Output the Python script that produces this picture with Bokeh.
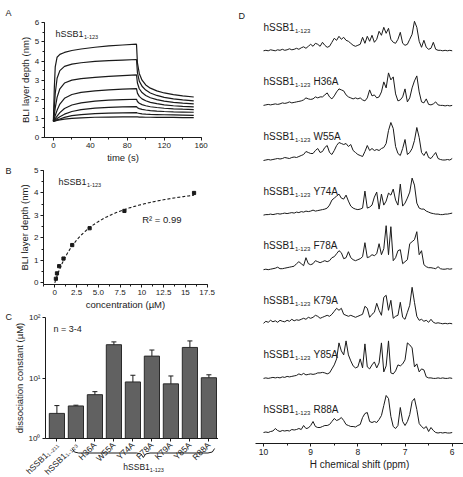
import math
import numpy as np
from bokeh.plotting import figure
from bokeh.layouts import row, column
from bokeh.models import (Range1d, SingleIntervalTicker, FixedTicker, Whisker,
                          TeeHead, ColumnDataSource)
from bokeh.core.properties import value
from bokeh.embed import file_html
from bokeh.resources import INLINE

FONT = "Liberation Sans"
INK = "#1a1a1a"

# ---------------- A: BLI sensorgrams (association 0-90 s, dissociation after) ----------------
bli_time = [0, 1, 2, 4, 7, 12, 20, 30, 45, 60, 75, 90,
            91, 93, 96, 100, 105, 112, 120, 130, 140, 152]
bli_response = [
    [0.85, 2.6, 3.7, 4.2, 4.35, 4.45, 4.55, 4.63, 4.72, 4.79, 4.84, 4.88,
     3.9, 3.35, 3.0, 2.75, 2.58, 2.44, 2.33, 2.24, 2.18, 2.12],
    [0.85, 1.6, 2.3, 3.1, 3.5, 3.72, 3.84, 3.91, 3.98, 4.02, 4.05, 4.08,
     3.4, 2.95, 2.68, 2.48, 2.33, 2.2, 2.1, 2.02, 1.97, 1.92],
    [0.85, 1.2, 1.55, 2.1, 2.55, 2.85, 3.0, 3.08, 3.15, 3.2, 3.24, 3.28,
     2.85, 2.55, 2.35, 2.2, 2.08, 1.98, 1.9, 1.84, 1.8, 1.76],
    [0.85, 1.0, 1.15, 1.42, 1.75, 2.05, 2.25, 2.36, 2.44, 2.49, 2.53, 2.56,
     2.32, 2.15, 2.02, 1.92, 1.84, 1.77, 1.71, 1.66, 1.63, 1.6],
    [0.85, 0.92, 0.99, 1.12, 1.3, 1.52, 1.7, 1.81, 1.9, 1.95, 1.98, 2.0,
     1.88, 1.79, 1.72, 1.66, 1.61, 1.57, 1.53, 1.5, 1.48, 1.46],
    [0.85, 0.88, 0.92, 0.99, 1.09, 1.22, 1.36, 1.46, 1.54, 1.58, 1.6, 1.62,
     1.56, 1.51, 1.47, 1.44, 1.41, 1.38, 1.36, 1.34, 1.33, 1.32],
    [0.85, 0.86, 0.88, 0.92, 0.97, 1.05, 1.14, 1.2, 1.25, 1.27, 1.29, 1.3,
     1.28, 1.26, 1.24, 1.22, 1.21, 1.2, 1.19, 1.18, 1.17, 1.16],
    [0.85, 0.86, 0.87, 0.89, 0.92, 0.96, 1.0, 1.03, 1.06, 1.07, 1.08, 1.08,
     1.08, 1.07, 1.07, 1.06, 1.06, 1.05, 1.05, 1.05, 1.04, 1.04],
]

# ---------------- B: steady-state response vs concentration ----------------
bli_conc = [0.125, 0.25, 0.5, 1, 2, 4, 8, 16]
bli_plateau = [0.18, 0.42, 0.74, 1.08, 1.68, 2.43, 3.2, 4.0]
fit_bmax = 4.85
fit_kd = 3.9
fit_r2 = "0.99"

# ---------------- C: dissociation constants ----------------
kd_construct = ["hSSB1₁₋₂₁₁", "hSSB1₁₋₁₂₃", "H36A", "W55A", "Y74A",
                "F78A", "K79A", "Y85A", "R88A"]
kd_mean = [2.6, 3.45, 5.3, 35.5, 8.6, 23.0, 8.0, 32.0, 10.1]
kd_err = [0.9, 0.1, 0.65, 4.0, 2.5, 6.0, 2.8, 9.0, 1.2]

# ---------------- D: 1D 1H NMR spectra (amide/aromatic region) ----------------
shift_ppm = np.linspace(10.0, 6.0, 81)
nmr_mutation = ["", "H36A", "W55A", "Y74A", "F78A", "K79A", "Y85A", "R88A"]
nmr_spectra = [
    [0.5, 1, 0.5, 1.5, 1, 0.5, 1.5, 1, 2, 1, 1.5, 2.5, 1.5, 2, 3, 2, 3.5,
     4.5, 3, 5, 7, 5, 8, 7, 5, 9, 6,
     4, 5, 9, 13, 11, 15, 12, 14, 11, 10,
     8, 6, 5, 6, 7, 14, 8, 15, 10, 16,
     9, 12, 20, 16, 24, 18, 23, 12, 9, 8,
     12, 19, 8, 6, 7, 12, 17, 30, 24, 10,
     4, 11, 4, 2, 3, 9, 2, 1, 1, 0.5,
     1, 0.5, 1, 0.5],
    [0.5, 1, 1.5, 1, 1.5, 2, 1.5, 2, 3, 2.5, 3, 4, 3, 3.5, 4, 4.5, 5,
     6, 8, 7, 6.5, 7, 9, 8, 9, 9, 11,
     13, 9, 7, 10, 14, 17, 16, 15, 11, 9,
     8, 7, 8, 7, 8, 6, 5, 8, 16, 10,
     11, 8, 9, 14, 24, 18, 33, 26, 29, 12,
     5, 6, 9, 17, 4, 8, 18, 25, 30, 14,
     4, 3, 7, 1.5, 1, 2, 4, 1, 0.5, 0.5,
     0, 0.5, 0, 0.5],
    [0, 0.5, 1, 0.5, 1, 1.5, 2, 1.5, 2, 3, 2.5, 2, 3, 3.5, 3, 4, 5,
     6, 9, 8, 7, 7, 10, 12, 8, 9, 13,
     15, 8, 6, 10, 15, 18, 17, 16, 17, 14,
     16, 10, 8, 6, 5, 4, 9, 15, 10, 12,
     10, 11, 10, 12, 13, 17, 30, 38, 32, 14,
     7, 5, 12, 21, 6, 8, 12, 20, 33, 23,
     8, 5, 9, 3, 2, 5, 8, 2, 1, 0.5,
     0.5, 1, 0.5, 2],
    [0, 0.5, 0.5, 1, 0.5, 1, 1.5, 1, 1.5, 2, 1.5, 2, 2.5, 2, 3, 2.5, 3.5,
     3, 4, 3.5, 4, 5, 4, 4.5, 5, 5.5, 6,
     7, 10, 15, 17, 19, 21, 17, 16, 20, 14,
     9, 7, 6, 5.5, 6, 7, 24, 7, 8, 10,
     18, 23, 6, 21, 10, 14, 22, 20, 26, 15,
     10, 31, 9, 12, 17, 23, 37, 30, 12, 7,
     6, 6, 4, 3, 2, 1.5, 1, 1, 0.5, 0.5,
     1, 1, 1.5, 2],
    [0, 0.5, 0, 0.5, 1, 1.5, 2.5, 1, 1, 1.5, 2, 2.5, 3, 3.5, 6, 8, 6,
     4, 12, 6, 5, 6, 9, 8, 7, 8, 9,
     8, 9, 12, 13, 16, 19, 17, 11, 12, 18,
     12, 10, 9, 10, 11, 13, 27, 12, 13, 15,
     14, 16, 26, 15, 21, 44, 15, 43, 9, 12,
     19, 20, 6, 8, 10, 26, 28, 30, 38, 15,
     19, 5, 3, 2, 2, 1.5, 1, 3, 1, 0.5,
     0.5, 1, 0.5, 1],
    [1, 3, 2, 4, 2.5, 3.5, 2, 4, 3, 2.5, 4, 3, 5, 3.5, 4.5, 4, 5,
     6, 5, 7, 6, 7, 9, 8, 6, 7, 8,
     9, 8, 10, 13, 16, 14, 16, 10, 9, 8,
     9, 8, 7, 8, 9, 10, 18, 16, 7, 10,
     12, 21, 14, 9, 27, 29, 14, 24, 6, 8,
     9, 22, 7, 5, 12, 19, 37, 22, 8, 4,
     5, 3, 4, 2, 5, 2, 1, 1.5, 1, 0.5,
     1, 0.5, 1, 0.5],
    [0.5, 1, 0.5, 1, 1.5, 1, 1.5, 1, 2, 1.5, 2.5, 2, 2.5, 3, 3.5, 5, 4,
     5.5, 4, 4.5, 5, 4.5, 5, 6, 6, 6.5, 6,
     5, 6, 10, 14, 20, 36, 28, 24, 38, 24,
     18, 13, 11, 12, 20, 11, 35, 12, 10, 14,
     17, 11, 16, 36, 7, 13, 38, 6, 5, 8,
     14, 13, 15, 19, 36, 34, 31, 12, 15, 7,
     10, 9, 2, 1, 1, 0.5, 0.5, 1, 0.5, 1,
     0.5, 0.5, 1, 0.5],
    [1, 1.5, 1, 2, 2.5, 5, 3, 2, 3, 2.5, 3, 2.5, 4, 3.5, 4, 5, 4,
     8, 5, 5.5, 8, 12, 7, 6, 6, 7, 8,
     8, 9, 12, 15, 13, 14, 16, 13, 9, 8,
     7, 7, 6.5, 8, 9, 16, 20, 21, 12, 11,
     12, 11, 14, 18, 28, 38, 35, 17, 7, 5,
     8, 26, 12, 8, 12, 19, 32, 35, 24, 10,
     7, 5, 7, 2, 6, 3, 1, 0.5, 1, 0.5,
     1, 0.5, 0.5, 1],
]
stack_gap = 54.6

LEFT_W = 218
RIGHT_W = 245
A_TOP, B_TOP, C_TOP, BOTTOM = 0, 165, 311, 477


def pixel_map(px_a, v_a, px_b, v_b, origin=0):
    """Linear map from a page pixel coordinate to data units (origin = figure's top/left)."""
    k = (v_b - v_a) / (px_b - px_a)
    return lambda px: v_a + (px - px_a) * k


def make_fig(w, top, h, fx, fy, y_log=False):
    # the frame fills the whole figure; axes are pinned inside it with fixed_location
    if y_log:
        yr = Range1d(10 ** fy(top + h), 10 ** fy(top))
    else:
        yr = Range1d(fy(top + h), fy(top))
    p = figure(width=w, height=h, x_range=Range1d(fx(0), fx(w)), y_range=yr,
               y_axis_type="log" if y_log else "linear",
               output_backend="svg", toolbar_location=None, min_border=0)
    p.outline_line_color = None
    p.grid.visible = False
    p.background_fill_color = "white"
    p.border_fill_color = "white"
    return p


def style_axes(p, tick_size="8px", label_size="9.5px"):
    for ax in p.axis:
        ax.axis_line_color = INK
        ax.major_tick_line_color = INK
        ax.minor_tick_line_color = INK
        ax.major_tick_in = 0
        ax.major_tick_out = 3
        ax.minor_tick_in = 0
        ax.minor_tick_out = 2
        ax.major_label_text_font = FONT
        ax.major_label_text_font_size = tick_size
        ax.major_label_text_color = INK
        ax.major_label_standoff = 2
        ax.axis_label_text_font = FONT
        ax.axis_label_text_font_size = label_size
        ax.axis_label_text_font_style = "normal"
        ax.axis_label_text_color = INK
        ax.axis_label_standoff = 1


def put_text(p, x, y, txt, size, x_offset=0, align="left"):
    p.text(x=[x], y=[y], text=[txt], text_font=value(FONT),
           text_font_size=value(size), text_color=INK,
           text_baseline="middle", text_align=align, x_offset=x_offset)


def construct_name(p, x, y, y_sub, size, sub_size, sub_dx, suffix=None, suffix_dx=0):
    put_text(p, x, y, "hSSB1", size)
    put_text(p, x, y_sub, "1-123", sub_size, x_offset=sub_dx)
    if suffix:
        put_text(p, x, y, suffix, size, x_offset=suffix_dx)


# ---------------- Panel A ----------------
fxA = pixel_map(52.9, 0, 163.7, 120)
fyA = pixel_map(137, 0, 22.3, 6)
pA = make_fig(LEFT_W, A_TOP, B_TOP - A_TOP, fxA, fyA)
for resp in bli_response:
    pA.line(bli_time, resp, line_color=INK, line_width=1.2)
style_axes(pA)
pA.xaxis.fixed_location = 0
pA.xaxis.bounds = (-10, 160)
pA.yaxis.fixed_location = -10
pA.yaxis.bounds = (0, 6)
pA.xaxis.ticker = SingleIntervalTicker(interval=40, num_minor_ticks=2)
pA.yaxis.ticker = SingleIntervalTicker(interval=1, num_minor_ticks=2)
pA.xaxis.axis_label = "time (s)"
pA.yaxis.axis_label = "BLI layer depth (nm)"
construct_name(pA, fxA(55), fyA(33), fyA(36), "9px", "5.5px", 28.5)
put_text(pA, fxA(5), fyA(12), "A", "9px")

# ---------------- Panel B ----------------
fxB = pixel_map(54.3, 0, 206.6, 17.5)
fyB = pixel_map(282.3, 0, 170, 5)
pB = make_fig(LEFT_W, B_TOP, C_TOP - B_TOP, fxB, fyB)
conc_fit = np.linspace(0, max(bli_conc), 200)
pB.line(conc_fit, fit_bmax * conc_fit / (fit_kd + conc_fit), line_color=INK,
        line_width=1.1, line_dash="3 2")
pB.scatter(bli_conc, bli_plateau, marker="square", size=3.2, color=INK)
style_axes(pB)
pB.xaxis.fixed_location = -0.08
pB.xaxis.bounds = (-1.3, 17.5)
pB.yaxis.fixed_location = -1.3
pB.yaxis.bounds = (-0.08, 5)
pB.xaxis.ticker = SingleIntervalTicker(interval=2.5, num_minor_ticks=2)
pB.xaxis.major_label_overrides = {5: "5.0"}
pB.yaxis.ticker = SingleIntervalTicker(interval=1, num_minor_ticks=2)
pB.xaxis.axis_label = "concentration (µM)"
pB.yaxis.axis_label = "BLI layer depth (nm)"
construct_name(pB, fxB(58), fyB(181.7), fyB(184.7), "9px", "5.5px", 28.5)
put_text(pB, fxB(141.7), fyB(219.3), "R² = " + fit_r2, "9.5px")
put_text(pB, fxB(5), fyB(170), "B", "9px")

# ---------------- Panel C ----------------
fxC = pixel_map(45, 0.4, 216, 9.4)
flogC = pixel_map(438, 0, 317, 2)
pC = make_fig(LEFT_W, C_TOP, BOTTOM - C_TOP, fxC, flogC, y_log=True)
kd_x = list(range(1, len(kd_mean) + 1))
kd_src = ColumnDataSource(dict(
    x=kd_x, top=kd_mean,
    upper=[m + e for m, e in zip(kd_mean, kd_err)],
    lower=[m - e for m, e in zip(kd_mean, kd_err)],
))
pC.vbar(x="x", top="top", bottom=1, width=0.8, source=kd_src,
        fill_color="#616161", line_color="#2a2a2a", line_width=1)
pC.add_layout(Whisker(base="x", upper="upper", lower="lower", source=kd_src,
                      line_color=INK, line_width=1,
                      upper_head=TeeHead(size=5, line_color=INK, line_width=1),
                      lower_head=TeeHead(size=5, line_color=INK, line_width=1)))
style_axes(pC, tick_size="8.5px")
pC.xaxis.fixed_location = 1
pC.xaxis.bounds = (0.4, 9.5)
pC.yaxis.fixed_location = 0.4
pC.yaxis.bounds = (1, 100)
pC.xaxis.ticker = FixedTicker(ticks=kd_x)
pC.xaxis.major_label_overrides = {i: lab for i, lab in zip(kd_x, kd_construct)}
pC.xaxis.major_label_orientation = math.pi / 4
pC.yaxis.ticker = FixedTicker(ticks=[1, 10, 100])
pC.yaxis.major_label_overrides = {1: "10⁰", 10: "10¹", 100: "10²"}
pC.yaxis.major_label_text_font_size = "8px"
pC.yaxis.axis_label = "dissociation constant (µM)"
put_text(pC, fxC(53), 10 ** flogC(328), "n = 3-4", "9px")
put_text(pC, fxC(5), 10 ** flogC(316), "C", "9px")

# curly brace grouping the hSSB1(1-123) point mutants, with its caption
bx0, bx1 = kd_x[2] - 1.2, kd_x[-1] + 0.3
bxc = (bx0 + bx1) / 2
brace_x = [bx0, bx0 + 0.12, bx0 + 0.35, bxc - 0.35, bxc - 0.12, bxc,
           bxc + 0.12, bxc + 0.35, bx1 - 0.35, bx1 - 0.12, bx1]
brace_py = [448, 451.5, 452.5, 452.5, 453.5, 457, 453.5, 452.5, 452.5, 451.5, 448]
pC.line(brace_x, [10 ** flogC(v) for v in brace_py], line_color=INK, line_width=1)
put_text(pC, bxc, 10 ** flogC(466), "hSSB1", "8.5px", x_offset=-20)
put_text(pC, bxc, 10 ** flogC(469), "1-123", "5.5px", x_offset=6.5)

# ---------------- Panel D ----------------
fxD = pixel_map(45, 10, 233.7, 6)
fyD = pixel_map(433, 0, 0, 433)
pD = make_fig(RIGHT_W, 0, BOTTOM, fxD, fyD)
n_spec = len(nmr_spectra)
for i, (spec, mut) in enumerate(zip(nmr_spectra, nmr_mutation)):
    off = (n_spec - 1 - i) * stack_gap
    pD.line(shift_ppm, np.array(spec) + off, line_color=INK, line_width=1)
    construct_name(pD, 10.0, off + 24, off + 20.5, "10px", "6px", 31.5,
                   suffix=mut, suffix_dx=50)
style_axes(pD, tick_size="8.5px", label_size="10px")
pD.yaxis.visible = False
pD.xaxis.fixed_location = fyD(443)
pD.xaxis.bounds = (5.76, fxD(37))
pD.xaxis.ticker = SingleIntervalTicker(interval=1, num_minor_ticks=2)
pD.xaxis.axis_label = "H chemical shift (ppm)"
put_text(pD, fxD(20), fyD(15), "D", "9px")

layout = row(column(pA, pB, pC), pD)
open("out.html", "w").write(file_html(layout, INLINE))
